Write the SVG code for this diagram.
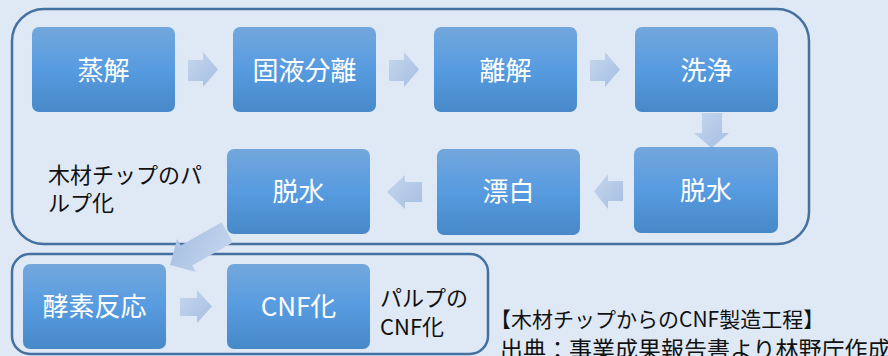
<svg xmlns="http://www.w3.org/2000/svg" width="888" height="356" viewBox="0 0 888 356">
<defs>
<linearGradient id="bg" x1="0" y1="0" x2="0" y2="1">
<stop offset="0" stop-color="#73a7dc"/>
<stop offset="0.5" stop-color="#579be0"/>
<stop offset="1" stop-color="#4789c8"/>
</linearGradient>
<linearGradient id="ar" x1="0" y1="0" x2="1" y2="1">
<stop offset="0" stop-color="#c6d7ee"/>
<stop offset="1" stop-color="#a5bee2"/>
</linearGradient>
<style>
.frame{fill:none;stroke:#44719f;stroke-width:2.5}
.box{fill:url(#bg)}
.bt{font-family:"Noto Sans CJK JP","Noto Sans",sans-serif;font-size:26px;fill:#ffffff;text-anchor:middle}
.lbl{font-family:"Noto Sans CJK JP","Noto Sans",sans-serif;font-size:22px;fill:#111111}
.cap1{font-family:"Noto Sans CJK JP","Noto Sans",sans-serif;font-size:21px;fill:#111111}
.cap2{font-family:"Noto Sans CJK JP","Noto Sans",sans-serif;font-size:23px;fill:#111111}
.arr{fill:url(#ar)}
</style>
</defs>
<rect width="888" height="356" fill="#dfe9f5"/>
<g id="frames">
<rect class="frame" x="12" y="9" width="797" height="235" rx="32"/>
<rect class="frame" x="12" y="254" width="476" height="100" rx="18"/>
</g>
<g id="connectors">
<polygon class="arr" points="188,60 203,60 203,52 218,69.5 203,87 203,81 188,81"/>
<polygon class="arr" points="389,60 404,60 404,52 419,69.5 404,87 404,81 389,81"/>
<polygon class="arr" points="590,60 605,60 605,52 620,69.5 605,87 605,81 590,81"/>
<polygon class="arr" points="702,113 722,113 722,133 729,133 711.5,148 694,133 702,133"/>
<polygon class="arr" points="623,181 608,181 608,174 594,191.5 608,209 608,201 623,201"/>
<polygon class="arr" points="422,182 405,182 405,175 387,192 405,209 405,202 422,202"/>
<polygon class="arr" points="180,298 197,298 197,290 212,306.5 197,323 197,316 180,316"/>
<polygon class="arr" transform="translate(170,265) rotate(150.3)" points="0,0 -19,-19 -19,-11.5 -66,-11.5 -66,11.5 -19,11.5 -19,19"/>
</g>
<g id="n1"><rect class="box" x="32" y="27" width="143" height="85" rx="7"/><text class="bt" x="103.5" y="80">蒸解</text></g>
<g id="n2"><rect class="box" x="233" y="27" width="143" height="85" rx="7"/><text class="bt" x="304.5" y="80">固液分離</text></g>
<g id="n3"><rect class="box" x="434" y="27" width="143" height="85" rx="7"/><text class="bt" x="505.5" y="80">離解</text></g>
<g id="n4"><rect class="box" x="635" y="27" width="143" height="85" rx="7"/><text class="bt" x="706.5" y="80">洗浄</text></g>
<g id="n5"><rect class="box" x="634" y="147" width="144" height="86" rx="7"/><text class="bt" x="706" y="200">脱水</text></g>
<g id="n6"><rect class="box" x="437" y="149" width="143" height="86" rx="7"/><text class="bt" x="508.5" y="201">漂白</text></g>
<g id="n7"><rect class="box" x="227" y="149" width="143" height="85" rx="7"/><text class="bt" x="298.5" y="201">脱水</text></g>
<g id="n8"><rect class="box" x="23" y="264" width="143" height="85" rx="7"/><text class="bt" x="94.5" y="316">酵素反応</text></g>
<g id="n9"><rect class="box" x="227" y="264" width="143" height="85" rx="7"/><text class="bt" x="298.5" y="316">CNF化</text></g>
<g id="labels">
<text class="lbl" x="48" y="183">木材チップのパ</text>
<text class="lbl" x="48" y="211">ルプ化</text>
<text class="lbl" x="380" y="306">パルプの</text>
<text class="lbl" x="380" y="335">CNF化</text>
<text class="cap1" x="490" y="327">【木材チップからのCNF製造工程】</text>
<text class="cap2" x="500" y="358">出典：事業成果報告書より林野庁作成</text>
</g>
</svg>
